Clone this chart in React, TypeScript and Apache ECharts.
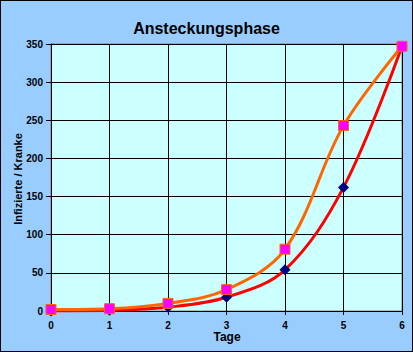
import React, { useEffect, useRef } from "react";
import * as echarts from "echarts";

const days = [0, 1, 2, 3, 4, 5, 6];
const kranke = [0, 1, 5, 18, 54, 162, 347];
const infizierte = [2, 3, 10, 28, 81, 243, 347];
const yTicks = [0, 50, 100, 150, 200, 250, 300, 350];

const FONT = "'Liberation Sans', Arial, sans-serif";

export default function App() {
  const ref = useRef<HTMLDivElement>(null);
  useEffect(() => {
    if (!ref.current) return;
    const chart = echarts.init(ref.current, null, { renderer: "svg" });
    chart.setOption({
      animation: false,
      backgroundColor: "#99ccff",
      title: {
        text: "Ansteckungsphase",
        left: "center",
        top: 14,
        textStyle: { fontFamily: FONT, fontSize: 16, fontWeight: "bold", color: "#000" },
      },
      grid: {
        left: 50,
        right: 10,
        top: 43,
        bottom: 40,
        show: true,
        backgroundColor: "#ccffff",
        borderColor: "#808080",
        borderWidth: 1,
      },
      xAxis: {
        type: "value",
        min: 0,
        max: 6,
        interval: 1,
        axisLine: { show: true, lineStyle: { color: "#000", width: 1 } },
        axisTick: { show: true, length: 4, lineStyle: { color: "#000" } },
        axisLabel: { fontFamily: FONT, fontSize: 10, fontWeight: "bold", color: "#000", margin: 9 },
        splitLine: { show: true, lineStyle: { color: "#000", width: 1 } },
      },
      yAxis: {
        type: "value",
        min: yTicks[0],
        max: yTicks[yTicks.length - 1],
        interval: 50,
        axisLine: { show: true, lineStyle: { color: "#000", width: 1 } },
        axisTick: { show: true, length: 5, lineStyle: { color: "#000" } },
        axisLabel: { fontFamily: FONT, fontSize: 10, fontWeight: "bold", color: "#000", margin: 8 },
        splitLine: { show: true, lineStyle: { color: "#000", width: 1 } },
      },
      graphic: [
        {
          type: "text",
          x: 17,
          y: 178,
          rotation: Math.PI / 2,
          style: {
            text: "Infizierte / Kranke",
            font: `bold 11px ${FONT}`,
            fill: "#000",
            align: "center",
            verticalAlign: "middle",
          },
        },
        {
          type: "text",
          x: 226,
          y: 336,
          style: {
            text: "Tage",
            font: `bold 12px ${FONT}`,
            fill: "#000",
            align: "center",
            verticalAlign: "middle",
          },
        },
      ],
      series: [
        {
          type: "line",
          data: days.map((d, i) => [d, kranke[i]]),
          smooth: 0.35,
          lineStyle: { color: "#ff0000", width: 3 },
          symbol: "diamond",
          symbolSize: 11,
          itemStyle: { color: "#000080", borderWidth: 0 },
          z: 3,
        },
        {
          type: "line",
          data: days.map((d, i) => [d, infizierte[i]]),
          smooth: 0.35,
          lineStyle: { color: "#ff6600", width: 3 },
          symbol: "rect",
          symbolSize: 10,
          itemStyle: { color: "#ff00ff", borderColor: "#ff6600", borderWidth: 1 },
          z: 4,
        },
      ],
    });
    return () => chart.dispose();
  }, []);
  return (
    <div
      style={{
        position: "absolute",
        left: 0,
        top: 0,
        width: 413,
        height: 352,
        boxSizing: "border-box",
        border: "1px solid #000",
      }}
    >
      <div ref={ref} style={{ width: 411, height: 350 }} />
    </div>
  );
}
